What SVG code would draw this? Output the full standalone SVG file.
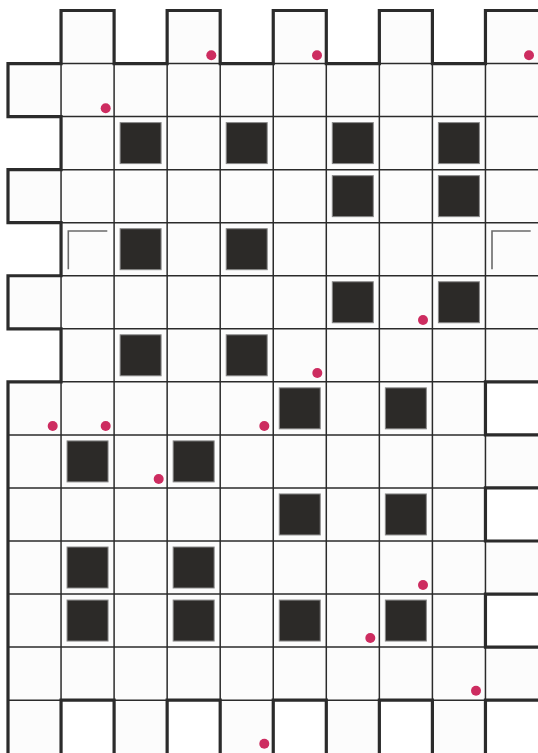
<svg xmlns="http://www.w3.org/2000/svg" width="538" height="753" viewBox="0 0 538 753">
<style>
.grid line{stroke:#2b2b2b;stroke-width:1.5}
.outline{fill:none;stroke:#2b2b2b;stroke-width:3.2;stroke-linejoin:miter}
.blk{fill:#2c2a28;stroke:#8a8a8a;stroke-width:1}
.dot{fill:#cd2c60}
.mark{fill:none;stroke:#6a6a6a;stroke-width:1.6}
</style>
<defs>
<path id="region" d="M 8,63.55 H 61.05 V 10.5 H 114.1 V 63.55 H 167.15 V 10.5 H 220.2 V 63.55 H 273.25 V 10.5 H 326.3 V 63.55 H 379.35 V 10.5 H 432.4 V 63.55 H 485.45 V 10.5 H 545 V 381.85 H 485.45 V 434.9 H 545 V 487.95 H 485.45 V 541 H 545 V 594.05 H 485.45 V 647.1 H 545 V 700.15 H 485.45 V 760 H 432.4 V 700.15 H 379.35 V 760 H 326.3 V 700.15 H 273.25 V 760 H 220.2 V 700.15 H 167.15 V 760 H 114.1 V 700.15 H 61.05 V 760 H 8 V 381.85 H 61.05 V 328.8 H 8 V 275.75 H 61.05 V 222.7 H 8 V 169.65 H 61.05 V 116.6 H 8 Z"/>
<clipPath id="clip"><use href="#region"/></clipPath>
</defs>
<rect width="538" height="753" fill="#ffffff"/>
<use href="#region" fill="#fcfcfc"/>
<g id="grid" class="grid" clip-path="url(#clip)">
<line x1="0" y1="63.55" x2="545" y2="63.55"/>
<line x1="0" y1="116.6" x2="545" y2="116.6"/>
<line x1="0" y1="169.65" x2="545" y2="169.65"/>
<line x1="0" y1="222.7" x2="545" y2="222.7"/>
<line x1="0" y1="275.75" x2="545" y2="275.75"/>
<line x1="0" y1="328.8" x2="545" y2="328.8"/>
<line x1="0" y1="381.85" x2="545" y2="381.85"/>
<line x1="0" y1="434.9" x2="545" y2="434.9"/>
<line x1="0" y1="487.95" x2="545" y2="487.95"/>
<line x1="0" y1="541" x2="545" y2="541"/>
<line x1="0" y1="594.05" x2="545" y2="594.05"/>
<line x1="0" y1="647.1" x2="545" y2="647.1"/>
<line x1="0" y1="700.15" x2="545" y2="700.15"/>
<line x1="61.05" y1="0" x2="61.05" y2="760"/>
<line x1="114.1" y1="0" x2="114.1" y2="760"/>
<line x1="167.15" y1="0" x2="167.15" y2="760"/>
<line x1="220.2" y1="0" x2="220.2" y2="760"/>
<line x1="273.25" y1="0" x2="273.25" y2="760"/>
<line x1="326.3" y1="0" x2="326.3" y2="760"/>
<line x1="379.35" y1="0" x2="379.35" y2="760"/>
<line x1="432.4" y1="0" x2="432.4" y2="760"/>
<line x1="485.45" y1="0" x2="485.45" y2="760"/>
</g>
<g id="outline"><use href="#region" class="outline"/></g>
<g id="blocks">
<rect class="blk" x="120.1" y="122.6" width="41" height="41"/>
<rect class="blk" x="226.2" y="122.6" width="41" height="41"/>
<rect class="blk" x="332.3" y="122.6" width="41" height="41"/>
<rect class="blk" x="438.4" y="122.6" width="41" height="41"/>
<rect class="blk" x="332.3" y="175.65" width="41" height="41"/>
<rect class="blk" x="438.4" y="175.65" width="41" height="41"/>
<rect class="blk" x="120.1" y="228.7" width="41" height="41"/>
<rect class="blk" x="226.2" y="228.7" width="41" height="41"/>
<rect class="blk" x="332.3" y="281.75" width="41" height="41"/>
<rect class="blk" x="438.4" y="281.75" width="41" height="41"/>
<rect class="blk" x="120.1" y="334.8" width="41" height="41"/>
<rect class="blk" x="226.2" y="334.8" width="41" height="41"/>
<rect class="blk" x="279.25" y="387.85" width="41" height="41"/>
<rect class="blk" x="385.35" y="387.85" width="41" height="41"/>
<rect class="blk" x="67.05" y="440.9" width="41" height="41"/>
<rect class="blk" x="173.15" y="440.9" width="41" height="41"/>
<rect class="blk" x="279.25" y="493.95" width="41" height="41"/>
<rect class="blk" x="385.35" y="493.95" width="41" height="41"/>
<rect class="blk" x="67.05" y="547" width="41" height="41"/>
<rect class="blk" x="173.15" y="547" width="41" height="41"/>
<rect class="blk" x="67.05" y="600.05" width="41" height="41"/>
<rect class="blk" x="173.15" y="600.05" width="41" height="41"/>
<rect class="blk" x="279.25" y="600.05" width="41" height="41"/>
<rect class="blk" x="385.35" y="600.05" width="41" height="41"/>
</g>
<g id="marks">
<path class="mark" d="M 68.3,269.3 V 231 H 107.3"/>
<path class="mark" d="M 492,269.3 V 231 H 530.7"/>
</g>
<g id="dots">
<circle class="dot" cx="211.3" cy="55.3" r="5"/>
<circle class="dot" cx="317" cy="55.3" r="5"/>
<circle class="dot" cx="529" cy="55.3" r="5"/>
<circle class="dot" cx="105.7" cy="108.3" r="5"/>
<circle class="dot" cx="423" cy="320" r="5"/>
<circle class="dot" cx="317.3" cy="373" r="5"/>
<circle class="dot" cx="52.7" cy="426" r="5"/>
<circle class="dot" cx="105.7" cy="426" r="5"/>
<circle class="dot" cx="264.3" cy="426" r="5"/>
<circle class="dot" cx="158.7" cy="479" r="5"/>
<circle class="dot" cx="423" cy="585" r="5"/>
<circle class="dot" cx="370.3" cy="638" r="5"/>
<circle class="dot" cx="476" cy="690.7" r="5"/>
<circle class="dot" cx="264.3" cy="743.7" r="5"/>
</g>
</svg>
